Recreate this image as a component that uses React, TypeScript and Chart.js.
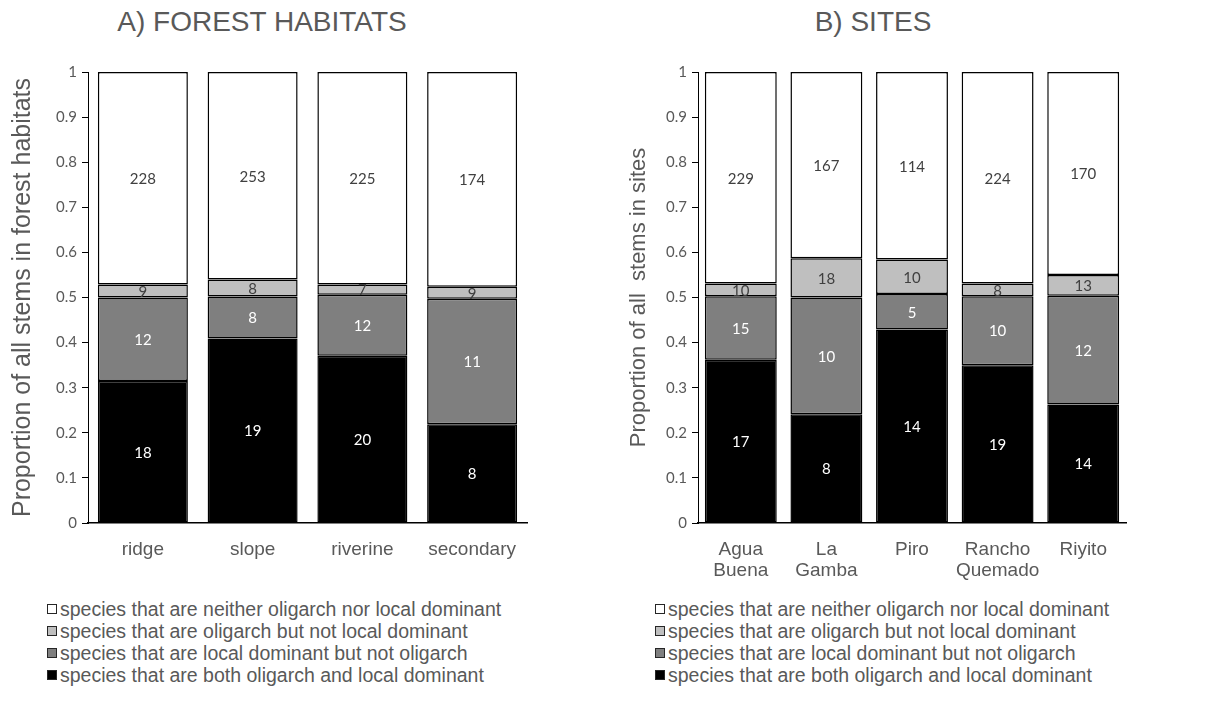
import React, { useEffect, useRef } from "react";
import { Chart, registerables } from "chart.js";

Chart.register(...registerables);

// Species groups, stacked bottom to top
const groupNames = [
  "species that are both oligarch and local dominant",
  "species that are local dominant but not oligarch",
  "species that are oligarch but not local dominant",
  "species that are neither oligarch nor local dominant",
];
const groupColors = ["#000000", "#7f7f7f", "#bfbfbf", "#ffffff"];
const labelColors = ["#ffffff", "#ffffff", "#404040", "#404040"];

// A) forest habitats — proportion of stems per group
const habitatCategories = ["ridge", "slope", "riverine", "secondary"];
const habitatBoth = [0.315, 0.409, 0.371, 0.219];
const habitatLocalOnly = [0.185, 0.093, 0.135, 0.278];
const habitatOligarchOnly = [0.029, 0.038, 0.023, 0.027];
const habitatNeither = [0.471, 0.46, 0.471, 0.476];
// number of species per group
const habitatCountBoth = [18, 19, 20, 8];
const habitatCountLocalOnly = [12, 8, 12, 11];
const habitatCountOligarchOnly = [9, 8, 7, 9];
const habitatCountNeither = [228, 253, 225, 174];

// B) sites — proportion of stems per group
const siteCategories = [["Agua", "Buena"], ["La", "Gamba"], "Piro", ["Rancho", "Quemado"], "Riyito"];
const siteBoth = [0.362, 0.241, 0.429, 0.35, 0.263];
const siteLocalOnly = [0.141, 0.259, 0.079, 0.153, 0.241];
const siteOligarchOnly = [0.028, 0.087, 0.076, 0.028, 0.046];
const siteNeither = [0.469, 0.413, 0.416, 0.469, 0.45];
// number of species per group
const siteCountBoth = [17, 8, 14, 19, 14];
const siteCountLocalOnly = [15, 10, 5, 10, 12];
const siteCountOligarchOnly = [10, 18, 10, 8, 13];
const siteCountNeither = [229, 167, 114, 224, 170];

const yTicks = [0, 0.1, 0.2, 0.3, 0.4, 0.5, 0.6, 0.7, 0.8, 0.9, 1];

const TEXT_GRAY = "#595959";
const ARIAL = "'Liberation Sans', Arial, sans-serif";
const CALIBRI = "Lato, 'Open Sans', sans-serif";

// Writes each segment's species count at the middle of the segment
const countLabels = {
  id: "countLabels",
  afterDatasetsDraw(chart: any) {
    const ctx = chart.ctx;
    ctx.save();
    ctx.font = `15px ${CALIBRI}`;
    ctx.textAlign = "center";
    ctx.textBaseline = "middle";
    chart.data.datasets.forEach((ds: any, di: number) => {
      const meta = chart.getDatasetMeta(di);
      meta.data.forEach((bar: any, i: number) => {
        const cy = (bar.y + bar.base) / 2;
        ctx.fillStyle = labelColors[di];
        ctx.fillText(String(ds.counts[i]), bar.x, cy + 1);
      });
    });
    ctx.restore();
  },
};

type PanelProps = {
  categories: any[];
  series: number[][];
  counts: number[][];
  yTitle: string;
  yTitleSize: number;
  yWidth: number;
  yTitlePad: number;
  rightPad: number;
  barPct: number;
};

function Panel(props: PanelProps) {
  const ref = useRef<HTMLCanvasElement | null>(null);
  useEffect(() => {
    if (!ref.current) return;
    const chart = new Chart(ref.current, {
      type: "bar",
      data: {
        labels: props.categories,
        datasets: props.series.map((vals, k) => ({
          label: groupNames[k],
          data: vals,
          counts: props.counts[k],
          backgroundColor: groupColors[k],
          borderColor: "#000000",
          borderWidth: 1.5,
          borderSkipped: false,
          barPercentage: props.barPct,
          categoryPercentage: 1,
        })) as any,
      },
      options: {
        animation: false,
        responsive: false,
        maintainAspectRatio: false,
        layout: { padding: { top: 24, right: props.rightPad, left: 0, bottom: 0 } },
        plugins: {
          legend: { display: false },
          tooltip: { enabled: false },
          title: { display: false },
        },
        scales: {
          x: {
            stacked: true,
            grid: { display: false },
            border: { display: true, color: "#000000", width: 1.5 },
            ticks: {
              color: TEXT_GRAY,
              font: { family: ARIAL, size: 19, lineHeight: 1.1 },
              padding: 8,
              maxRotation: 0,
              autoSkip: false,
            },
            afterFit: (s: any) => {
              s.height = 65;
            },
          },
          y: {
            stacked: true,
            min: 0,
            max: 1,
            afterBuildTicks: (s: any) => {
              s.ticks = yTicks.map((v) => ({ value: v }));
            },
            grid: {
              drawOnChartArea: false,
              drawTicks: true,
              tickLength: 6,
              color: "#000000",
              lineWidth: 1,
            },
            border: { display: true, color: "#000000", width: 1 },
            ticks: {
              color: TEXT_GRAY,
              font: { family: CALIBRI, size: 15 },
              padding: 5,
              callback: (v: any) => String(Math.round(Number(v) * 10) / 10),
            },
            title: {
              display: true,
              text: props.yTitle,
              color: TEXT_GRAY,
              font: { family: ARIAL, size: props.yTitleSize },
              padding: { top: props.yTitlePad, bottom: 0 },
            },
            afterFit: (s: any) => {
              s.width = props.yWidth;
            },
          },
        },
      } as any,
      plugins: [countLabels],
    });
    return () => chart.destroy();
  }, []);
  return <canvas ref={ref} width={540} height={540} style={{ width: 540, height: 540, display: "block" }} />;
}

function Legend() {
  const order = [3, 2, 1, 0];
  return (
    <div>
      {order.map((k) => (
        <div
          key={k}
          style={{
            height: 22,
            display: "flex",
            alignItems: "center",
            fontFamily: ARIAL,
            fontSize: 19.5,
            color: TEXT_GRAY,
            whiteSpace: "nowrap",
          }}
        >
          <span
            style={{
              display: "inline-block",
              width: 8,
              height: 8,
              border: "1.5px solid #262626",
              background: groupColors[k],
              marginRight: 3,
              flex: "none",
            }}
          />
          {groupNames[k]}
        </div>
      ))}
    </div>
  );
}

const titleStyle: React.CSSProperties = {
  position: "absolute",
  top: -1,
  width: 400,
  textAlign: "center",
  fontFamily: ARIAL,
  fontSize: 28,
  lineHeight: "30px",
  color: TEXT_GRAY,
  whiteSpace: "nowrap",
};

export default function App() {
  return (
    <div style={{ position: "relative", width: 1189, height: 701, background: "#ffffff" }}>
      <div style={{ ...titleStyle, left: 254 - 200 }}>A) FOREST HABITATS</div>
      <div style={{ ...titleStyle, left: 865 - 200 }}>B) SITES</div>
      <div style={{ position: "absolute", left: 0, top: 40 }}>
        <Panel
          categories={habitatCategories}
          series={[habitatBoth, habitatLocalOnly, habitatOligarchOnly, habitatNeither]}
          counts={[habitatCountBoth, habitatCountLocalOnly, habitatCountOligarchOnly, habitatCountNeither]}
          yTitle="Proportion of all stems in forest habitats"
          yTitleSize={25}
          yWidth={80}
          yTitlePad={0}
          rightPad={21}
          barPct={0.82}
        />
      </div>
      <div style={{ position: "absolute", left: 612, top: 40 }}>
        <Panel
          categories={siteCategories}
          series={[siteBoth, siteLocalOnly, siteOligarchOnly, siteNeither]}
          counts={[siteCountBoth, siteCountLocalOnly, siteCountOligarchOnly, siteCountNeither]}
          yTitle="Proportion of all  stems in sites"
          yTitleSize={22}
          yWidth={78}
          yTitlePad={6}
          rightPad={34}
          barPct={0.84}
        />
      </div>
      <div style={{ position: "absolute", left: 39, top: 590 }}>
        <Legend />
      </div>
      <div style={{ position: "absolute", left: 647, top: 590 }}>
        <Legend />
      </div>
    </div>
  );
}
